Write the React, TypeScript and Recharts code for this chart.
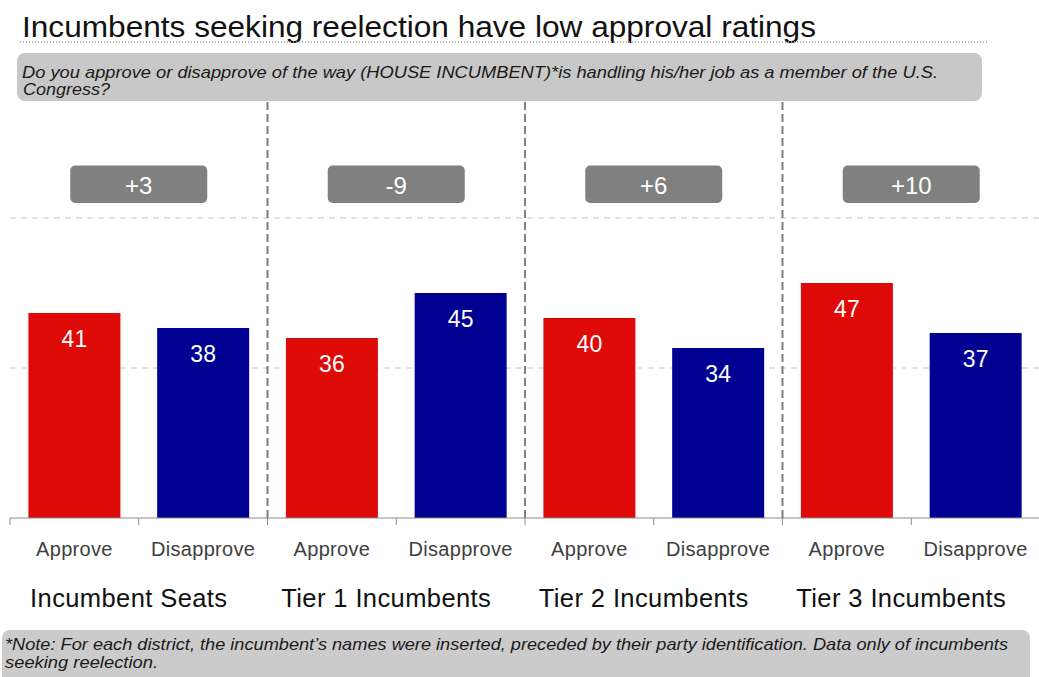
import React from 'react';
import {
  BarChart,
  Bar,
  XAxis,
  YAxis,
  CartesianGrid,
  Cell,
  LabelList,
  ReferenceLine,
  ReferenceArea,
} from 'recharts';

const groups = ['Incumbent Seats', 'Tier 1 Incumbents', 'Tier 2 Incumbents', 'Tier 3 Incumbents'];
const responses = ['Approve', 'Disapprove'];
const approveValues = [41, 36, 40, 47];
const disapproveValues = [38, 45, 34, 37];
const yTicks = [0, 30, 60];
const gridValues = [30, 60];

const TITLE = 'Incumbents seeking reelection have low approval ratings';
const QUESTION_1 =
  'Do you approve or disapprove of the way (HOUSE INCUMBENT)*is handling his/her job as a member of the U.S.';
const QUESTION_2 = 'Congress?';
const NOTE_1 =
  '*Note: For each district, the incumbent\u2019s names were inserted, preceded by their party identification. Data only of incumbents';
const NOTE_2 = 'seeking reelection.';

const rows = groups.flatMap((g, gi) => [
  { id: `${g}|${responses[0]}`, group: g, response: responses[0], value: approveValues[gi] },
  { id: `${g}|${responses[1]}`, group: g, response: responses[1], value: disapproveValues[gi] },
]);

const COLORS: Record<string, string> = { Approve: '#DE0A08', Disapprove: '#000092' };
const FONT = '"Liberation Sans", Arial, sans-serif';

const CHART_W = 1045;
const CHART_H = 677;
const MARGIN = { top: 68, right: 5, left: 10, bottom: 59 };
const AXIS_H = 100;
const BAND = (CHART_W - MARGIN.left - MARGIN.right) / rows.length;

const fmtDiff = (d: number) => (d > 0 ? `+${d}` : `${d}`);

const Tick = (props: any) => {
  const { x, y, payload, index } = props;
  const [group, response] = String(payload.value).split('|');
  return (
    <g>
      <line x1={x - BAND / 2} x2={x - BAND / 2} y1={y} y2={y + 7} stroke="#8c8c8c" strokeWidth={1} />
      {index === rows.length - 1 && (
        <line x1={x + BAND / 2} x2={x + BAND / 2} y1={y} y2={y + 7} stroke="#8c8c8c" strokeWidth={1} />
      )}
      <text
        x={x}
        y={y + 38}
        textAnchor="middle"
        fontSize={20}
        letterSpacing={0.3}
        fill="#404040"
        fontFamily={FONT}
      >
        {response}
      </text>
      {response === responses[0] && (
        <text
          x={x + BAND / 2 - 10}
          y={y + 89}
          textAnchor="middle"
          fontSize={25.5}
          letterSpacing={0.4}
          fill="#111"
          fontFamily={FONT}
        >
          {group}
        </text>
      )}
    </g>
  );
};

const BarValue = (props: any) => {
  const { x, y, width, value } = props;
  return (
    <text
      x={x + width / 2}
      y={y + 26}
      textAnchor="middle"
      dominantBaseline="central"
      fontSize={23}
      fill="#fff"
      fontFamily={FONT}
    >
      {value}
    </text>
  );
};

const makeDiffShape = (diff: number) => (props: any) => {
  const { x, y, width, height } = props;
  const cx = x + width / 2;
  const w = 137;
  return (
    <g>
      <rect x={cx - w / 2} y={y} width={w} height={height} rx={5} ry={5} fill="#808080" />
      <text
        x={cx}
        y={y + height / 2 + 1}
        textAnchor="middle"
        dominantBaseline="central"
        fontSize={24}
        fill="#fff"
        fontFamily={FONT}
      >
        {fmtDiff(diff)}
      </text>
    </g>
  );
};

export default function App() {
  return (
    <div
      style={{
        position: 'absolute',
        left: 0,
        top: 0,
        width: 1039,
        height: 677,
        overflow: 'hidden',
        background: '#fff',
        fontFamily: FONT,
      }}
    >
      <div style={{ position: 'absolute', left: 0, top: 0 }}>
        <BarChart
          width={CHART_W}
          height={CHART_H}
          data={rows}
          margin={MARGIN}
          barCategoryGap="14.3%"
        >
          <CartesianGrid
            vertical={false}
            horizontalValues={gridValues}
            stroke="#C4C4C4"
            strokeDasharray="6 5"
          />
          <YAxis hide domain={[0, 90]} ticks={yTicks} />
          <XAxis
            dataKey="id"
            interval={0}
            height={AXIS_H}
            tickSize={0}
            tickMargin={0}
            tickLine={false}
            axisLine={{ stroke: '#8c8c8c', strokeWidth: 1 }}
            tick={<Tick />}
          />
          {groups.slice(0, -1).map((g) => (
            <ReferenceLine
              key={g}
              x={`${g}|${responses[1]}`}
              position="end"
              stroke="#7f7f7f"
              strokeWidth={2}
              strokeDasharray="8 4"
            />
          ))}
          {groups.map((g, gi) => (
            <ReferenceArea
              key={`d-${g}`}
              x1={`${g}|${responses[0]}`}
              x2={`${g}|${responses[1]}`}
              y1={63}
              y2={70.5}
              shape={makeDiffShape(approveValues[gi] - disapproveValues[gi])}
            />
          ))}
          <Bar dataKey="value" isAnimationActive={false}>
            {rows.map((r) => (
              <Cell key={r.id} fill={COLORS[r.response]} />
            ))}
            <LabelList dataKey="value" content={<BarValue />} />
          </Bar>
        </BarChart>
      </div>
      <svg
        width={1039}
        height={677}
        style={{ position: 'absolute', left: 0, top: 0, pointerEvents: 'none' }}
      >
        <text x={22} y={37} fontSize={30} fill="#111" fontFamily={FONT} textLength={794} lengthAdjust="spacingAndGlyphs">
          {TITLE}
        </text>
        <line x1={20} x2={988} y1={42} y2={42} stroke="#9a9a9a" strokeWidth={1.5} strokeDasharray="1 2" />
        <rect x={17} y={53} width={965} height={48} rx={8} ry={8} fill="#C8C8C8" />
        <text x={22} y={78} fontSize={16.5} fontStyle="italic" fill="#1a1a1a" fontFamily={FONT} textLength={916} lengthAdjust="spacingAndGlyphs">
          {QUESTION_1}
        </text>
        <text x={23} y={95} fontSize={16.5} fontStyle="italic" fill="#1a1a1a" fontFamily={FONT} textLength={87} lengthAdjust="spacingAndGlyphs">
          {QUESTION_2}
        </text>
        <rect x={2} y={630} width={1028} height={60} rx={8} ry={8} fill="#CBCBCB" />
        <text x={5} y={650} fontSize={16.5} fontStyle="italic" fill="#1a1a1a" fontFamily={FONT} textLength={1003} lengthAdjust="spacingAndGlyphs">
          {NOTE_1}
        </text>
        <text x={5} y={668} fontSize={16.5} fontStyle="italic" fill="#1a1a1a" fontFamily={FONT} textLength={153} lengthAdjust="spacingAndGlyphs">
          {NOTE_2}
        </text>
      </svg>
    </div>
  );
}
